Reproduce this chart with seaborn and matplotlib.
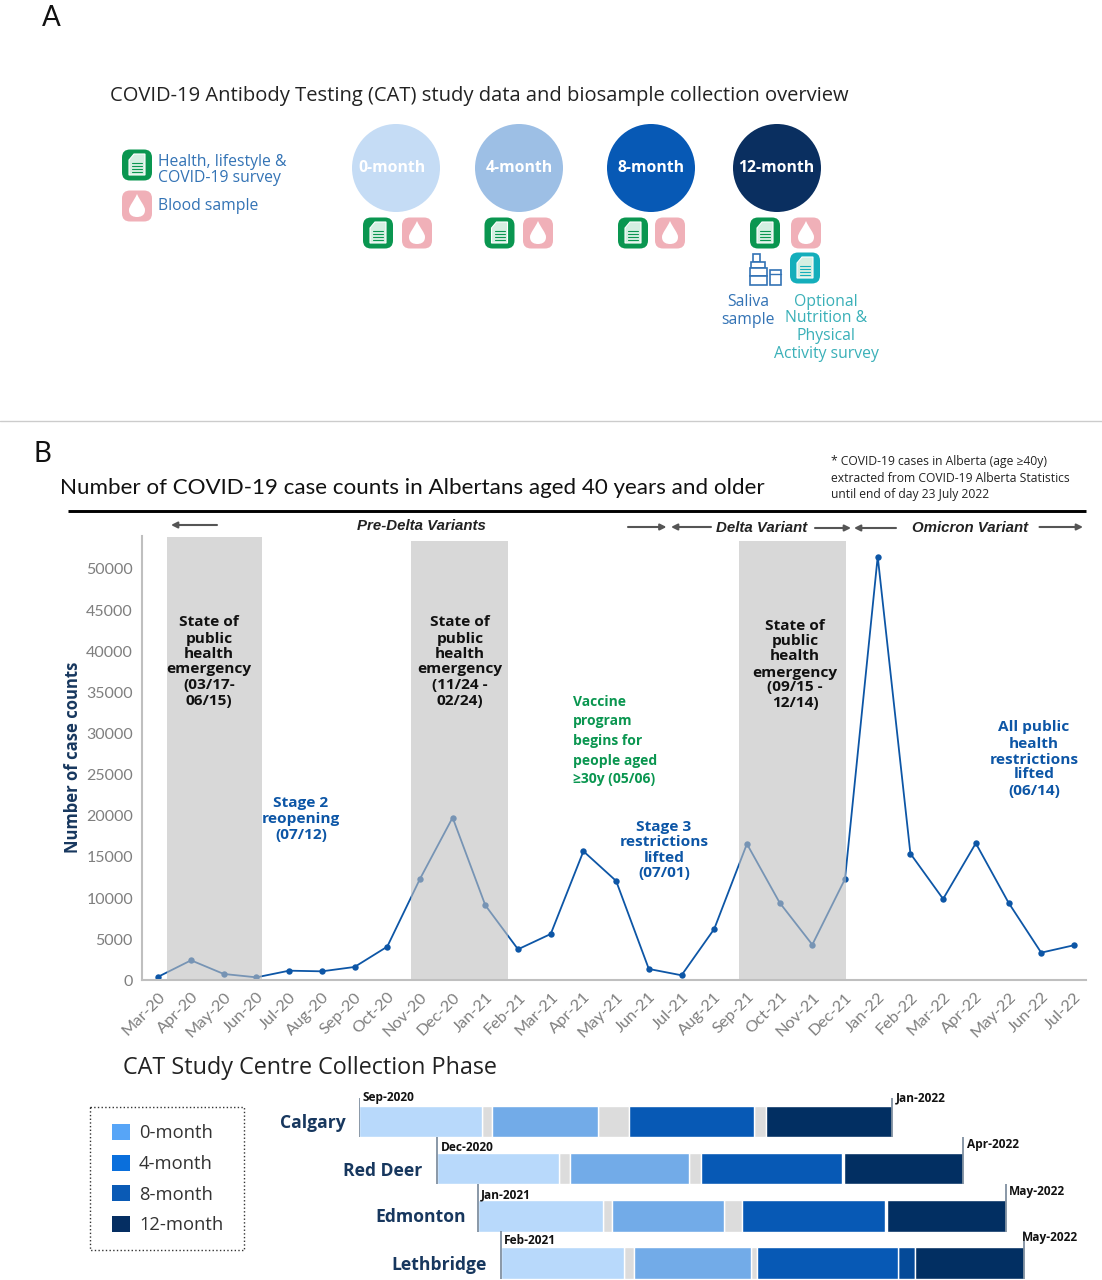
import matplotlib
matplotlib.use('Agg')
import matplotlib.pyplot as plt
from matplotlib.patches import Circle, FancyBboxPatch, PathPatch, Patch, Polygon, Rectangle
from matplotlib.path import Path
from matplotlib.transforms import ScaledTranslation
import seaborn as sns

W, H = 1102, 1280

# monthly case counts
months = ['Mar-20', 'Apr-20', 'May-20', 'Jun-20', 'Jul-20', 'Aug-20', 'Sep-20', 'Oct-20', 'Nov-20', 'Dec-20',
          'Jan-21', 'Feb-21', 'Mar-21', 'Apr-21', 'May-21', 'Jun-21', 'Jul-21', 'Aug-21', 'Sep-21', 'Oct-21',
          'Nov-21', 'Dec-21', 'Jan-22', 'Feb-22', 'Mar-22', 'Apr-22', 'May-22', 'Jun-22', 'Jul-22']
cases = [440, 2430, 770, 360, 1170, 1090, 1620, 4090, 12320, 19780,
         9120, 3770, 5630, 15690, 12080, 1380, 610, 6240, 16580, 9440,
         4330, 12320, 51510, 15400, 9890, 16660, 9440, 3360, 4260]
y_ticks = [0, 5000, 10000, 15000, 20000, 25000, 30000, 35000, 40000, 45000, 50000]

# emergency periods, in month positions and case-count height
band_start = [0.26, 7.72, 17.77]
band_end = [3.16, 10.69, 21.02]
band_top = [53900, 53420, 53420]

# collection phases per centre, months after the Calgary start
centres = ['Calgary', 'Red Deer', 'Edmonton', 'Lethbridge']
start_0m = [0.00, 2.34, 3.56, 4.23]
end_0m = [3.66, 5.99, 7.31, 7.93]
start_4m = [3.96, 6.31, 7.57, 8.22]
end_4m = [7.16, 9.87, 10.93, 11.73]
start_8m = [8.07, 10.24, 11.45, 11.92]
end_8m = [11.81, 14.45, 15.74, 16.14]
start_12m = [12.18, 14.50, 15.79, 16.65]
end_12m = [15.95, 18.08, 19.35, 19.89]
start_labels = ['Sep-2020', 'Dec-2020', 'Jan-2021', 'Feb-2021']
end_labels = ['Jan-2022', 'Apr-2022', 'May-2022', 'May-2022']

phase_names = ['0-month', '4-month', '8-month', '12-month']
bar_colors = ['#b8d9fb', '#72abe8', '#0759b5', '#022f62']
legend_colors = ['#57a5f7', '#0a6fdc', '#0a5ab5', '#052e62']
circle_colors = ['#c5dcf5', '#9dbfe5', '#0759b5', '#0a2f60']

NAVY = '#17375e'
BLUE = '#0d56a6'
SOFT_BLUE = '#3373b5'
TEAL = '#3ab0b8'
GREEN = '#0a9650'
PINK = '#f0b0b8'
GAP = '#dcdcdc'


def px_rect(left, top, right, bottom):
    return [left / W, 1 - bottom / H, (right - left) / W, (bottom - top) / H]


sns.set_theme(style='white')
plt.rcParams['font.family'] = ['Open Sans', 'DejaVu Sans']
fig = plt.figure(figsize=(W / 100, H / 100), dpi=100)

# line chart
ax = fig.add_axes(px_rect(142, 536, 1086, 980.3))
sns.lineplot(x=months, y=cases, sort=False, color=BLUE, linewidth=1.3, marker='o', markersize=4.6,
             markeredgewidth=0, ax=ax, zorder=2)
for a, b, top in zip(band_start, band_end, band_top):
    ax.fill_between([a, b], 160, top, color='#bfbfbf', alpha=0.6, linewidth=0, zorder=3)
ax.set_xlim(-0.5, 28.37)
ax.set_ylim(0, 54010)
ax.set_yticks(y_ticks)
ax.set_yticklabels([str(v) for v in y_ticks], family='Lato', fontsize=11.5, color='#7f7f7f')
ax.set_xticks(range(len(months)))
ax.set_xticklabels(months, family='Lato', fontsize=11.8, color='#7f7f7f', rotation=45, ha='right',
                   rotation_mode='anchor')
nudge = ScaledTranslation(-3.5 / 72, 0, fig.dpi_scale_trans)
for tick_label in ax.get_xticklabels():
    tick_label.set_transform(tick_label.get_transform() + nudge)
ax.tick_params(axis='y', length=0, pad=6.5)
ax.tick_params(axis='x', length=0, pad=7)
sns.despine(ax=ax)
for side in ['left', 'bottom']:
    ax.spines[side].set_color('#bfbfbf')
    ax.spines[side].set_linewidth(1.5)
ax.patch.set_alpha(0)

# collection phase bars
gx = fig.add_axes(px_rect(359.3, 1098, W, 1279.3))
gap_pairs = [(end_0m, start_4m), (end_4m, start_8m)]
for ends, starts in gap_pairs:
    sns.barplot(x=[s - e for s, e in zip(starts, ends)], y=centres, left=ends, order=centres, color=GAP,
                saturation=1, width=0.67, errorbar=None, orient='y', ax=gx)
# only Calgary has a visible grey gap before the 12-month phase
sns.barplot(x=[start_12m[0] - end_8m[0]], y=centres[:1], left=end_8m[:1], order=centres, color=GAP,
            saturation=1, width=0.67, errorbar=None, orient='y', ax=gx)
sns.barplot(x=[start_12m[3] - end_8m[3]], y=centres[3:], left=end_8m[3:], order=centres, color='#054a98',
            saturation=1, width=0.67, errorbar=None, orient='y', ax=gx)
phases = [(start_0m, end_0m), (start_4m, end_4m), (start_8m, end_8m), (start_12m, end_12m)]
for (starts, ends), c in zip(phases, bar_colors):
    sns.barplot(x=[e - s for s, e in zip(starts, ends)], y=centres, left=starts, order=centres, color=c,
                saturation=1, width=0.67, errorbar=None, orient='y', ax=gx)
for i in range(len(centres)):
    gx.vlines([start_0m[i], end_12m[i]], i - 0.668, i + 0.335, color='#8090a0', linewidth=1.3)
gx.set_xlim(0, (W - 359.3) / 33.4)
gx.set_ylim(3.35, -0.5)
gx.set_xticks([])
gx.set_yticks([])
gx.set(xlabel='', ylabel='')
gx.axis('off')

# everything else is placed in picture pixels on a full-figure layer
ov = fig.add_axes([0, 0, 1, 1], zorder=5)
ov.set_xlim(0, W)
ov.set_ylim(H, 0)
ov.axis('off')


def label(x, y, s, size, color='#222222', ha='left', weight='normal', family='Open Sans', style='normal', rot=0):
    # centred text sits a little high in these fonts
    ov.text(x + (1.5 if rot else 0), y + (0 if rot else 1.5), s, fontsize=size, color=color, ha=ha, va='center',
            fontweight=weight, family=family, fontstyle=style, rotation=rot)


def stacked(x, ys, lines, size, color, ha='center', family='Open Sans'):
    for yy, s in zip(ys, lines):
        label(x, yy, s, size, color, ha=ha, weight='bold', family=family)


def arrow(x0, x1, y):
    ov.annotate('', xy=(x1, y), xytext=(x0, y),
                arrowprops=dict(arrowstyle='-|>', color='#555555', lw=1.5, mutation_scale=9, shrinkA=0, shrinkB=0))


def rounded(cx, cy, color, w=30, h=31):
    ov.add_patch(FancyBboxPatch((cx - w / 2 + 6, cy - h / 2 + 6), w - 12, h - 12, boxstyle='round,pad=6,rounding_size=8',
                                facecolor=color, edgecolor='none'))


def doc_icon(cx, cy, color=GREEN):
    rounded(cx, cy, color)
    ov.add_patch(Polygon([(cx - 8, cy - 5), (cx - 3, cy - 11), (cx + 8, cy - 11), (cx + 8, cy + 10), (cx - 8, cy + 10)],
                         facecolor='#d5efe2', edgecolor='white', lw=0.8))
    for dy in [-2, 1, 4, 7]:
        ov.plot([cx - 5, cx + 5], [cy + dy, cy + dy], color=color, lw=0.8)


def drop_icon(cx, cy):
    rounded(cx, cy, PINK)
    verts = [(cx, cy - 12), (cx + 3, cy - 5), (cx + 8, cy), (cx + 8, cy + 4), (cx + 8, cy + 10), (cx + 3, cy + 11),
             (cx, cy + 11), (cx - 3, cy + 11), (cx - 8, cy + 10), (cx - 8, cy + 4), (cx - 8, cy), (cx - 3, cy - 5),
             (cx, cy - 12)]
    codes = [Path.MOVETO] + [Path.CURVE4] * 12
    ov.add_patch(PathPatch(Path(verts, codes), facecolor='white', edgecolor='none'))


def saliva_icon(cx, cy):
    kw = dict(facecolor='white', edgecolor=SOFT_BLUE, lw=1.2)
    ov.add_patch(Rectangle((cx - 13, cy - 16), 7, 8, **kw))
    ov.add_patch(Rectangle((cx - 15, cy - 8), 14, 6, **kw))
    ov.add_patch(Rectangle((cx - 16, cy - 2), 17, 8, **kw))
    ov.add_patch(Rectangle((cx - 16, cy + 6), 17, 9, **kw))
    ov.add_patch(Rectangle((cx + 4, cy), 11, 15, **kw))
    ov.plot([cx + 4, cx + 15], [cy + 4, cy + 4], color=SOFT_BLUE, lw=1)


# panel A
label(51, 17, 'A', 20, '#111111', ha='center', family='Lato')
label(110, 95, 'COVID-19 Antibody Testing (CAT) study data and biosample collection overview', 14.5, '#222222')
doc_icon(137, 165)
drop_icon(137, 206)
label(158, 160, 'Health, lifestyle &', 11.3, SOFT_BLUE)
label(158, 177, 'COVID-19 survey', 11.3, SOFT_BLUE)
label(158, 205, 'Blood sample', 11.3, SOFT_BLUE)

circle_x = [396, 519, 651, 777]
text_x = [392, 519, 651, 776]
icon_doc_x = [378, 499.5, 633, 765]
icon_drop_x = [417, 538, 670, 806]
for cx, tx, name, c, dx, px in zip(circle_x, text_x, phase_names, circle_colors, icon_doc_x, icon_drop_x):
    ov.add_patch(Circle((cx, 168), 44, facecolor=c, edgecolor='none'))
    label(tx, 167, name, 11.3, 'white', ha='center', weight='bold')
    doc_icon(dx, 233)
    drop_icon(px, 233)
doc_icon(805, 268, '#14aebb')
saliva_icon(766, 270)
label(748, 301, 'Saliva', 11.3, SOFT_BLUE, ha='center')
label(748, 318, 'sample', 11.3, SOFT_BLUE, ha='center')
for yy, s in zip([300, 317, 335, 352], ['Optional', 'Nutrition &', 'Physical', 'Activity survey']):
    label(826, yy, s, 11.3, TEAL, ha='center')

ov.plot([0, W], [421, 421], color='#cccccc', lw=1)

# panel B header
label(42, 453, 'B', 20, '#111111', ha='center', family='Lato')
label(60, 486, 'Number of COVID-19 case counts in Albertans aged 40 years and older', 16.1, '#111111', family='Lato')
for yy, s in zip([460, 477, 493], ['* COVID-19 cases in Alberta (age \u226540y)',
                                   'extracted from COVID-19 Alberta Statistics', 'until end of day 23 July 2022']):
    label(831, yy, s, 8.75, '#222222')
ov.plot([67.5, 1086], [511, 511], color='black', lw=2.1, solid_capstyle='butt')

label(421, 525, 'Pre-Delta Variants', 10.8, '#222222', ha='center', weight='bold', family='Liberation Sans', style='italic')
label(761.5, 526, 'Delta Variant', 10.8, '#222222', ha='center', weight='bold', family='Liberation Sans', style='italic')
label(970, 526, 'Omicron Variant', 10.8, '#222222', ha='center', weight='bold', family='Liberation Sans', style='italic')
arrow(217, 171, 525)
arrow(628, 666.5, 527)
arrow(711, 671, 527)
arrow(815, 851, 528)
arrow(896, 854, 528)
arrow(1039.5, 1083, 527)

label(72, 757, 'Number of case counts', 12, NAVY, ha='center', weight='bold', rot=90)

# chart annotations
sphe = ['State of', 'public', 'health', 'emergency']
rows = [621, 637, 652, 668, 683, 699]
stacked(209, rows, sphe + ['(03/17-', '06/15)'], 11.1, '#111111')
stacked(460, rows, sphe + ['(11/24 -', '02/24)'], 11.1, '#111111')
stacked(795, [624, 640, 655, 671, 686, 702], sphe + ['(09/15 -', '12/14)'], 11.1, '#111111')
stacked(301, [802, 818, 833], ['Stage 2', 'reopening', '(07/12)'], 11.1, BLUE)
stacked(664, [825, 841, 856, 872], ['Stage 3', 'restrictions', 'lifted', '(07/01)'], 11.1, BLUE)
stacked(1034, [726, 742, 758, 773, 789], ['All public', 'health', 'restrictions', 'lifted', '(06/14)'], 11.1, BLUE)
stacked(573, [700, 720, 739, 759, 778], ['Vaccine', 'program', 'begins for', 'people aged', '\u226530y (05/06)'], 10,
        GREEN, ha='left')

# phase chart captions
label(123, 1066, 'CAT Study Centre Collection Phase', 16.85, '#222222')
for name, right, yy in zip(centres, [346, 422, 466, 487], [1122, 1169, 1216, 1263]):
    label(right, yy, name, 12.6, NAVY, ha='right', weight='bold')
for s, x, yy in zip(start_labels, [362.7, 441, 481, 504], [1096, 1146, 1193, 1239]):
    label(x, yy, s, 8.6, '#111111', weight='bold')
for s, x, yy in zip(end_labels, [896, 967, 1009, 1022], [1096, 1143, 1190, 1236]):
    label(x, yy, s, 8.6, '#111111', weight='bold')

# legend: dotted box drawn separately so the inner margins can differ per side
ov.add_patch(Rectangle((90, 1107), 154, 143, facecolor='none', edgecolor='#333333', linestyle=':', lw=1))
handles = [Patch(facecolor=c, edgecolor='none') for c in legend_colors]
leg = fig.legend(handles, phase_names, loc='upper left', bbox_to_anchor=(112 / W, 1 - 1124 / H), frameon=False,
                 fontsize=13.2, labelcolor='#333333', handlelength=0.97, handleheight=0.97,
                 handletextpad=0.5, labelspacing=0.67, borderpad=0, borderaxespad=0)
leg.set_zorder(6)

fig.savefig('out.png', dpi=100)
